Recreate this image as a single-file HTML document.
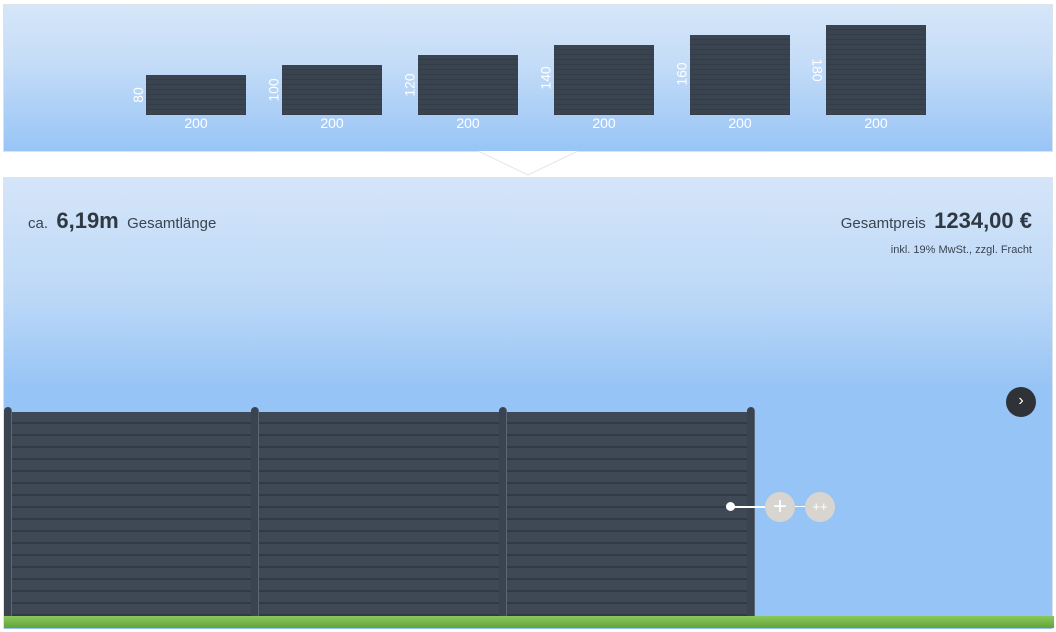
<!DOCTYPE html>
<html><head><meta charset="utf-8"><style>
*{margin:0;padding:0;box-sizing:border-box}
body{width:1056px;height:632px;background:#fff;position:relative;overflow:hidden;font-family:"Liberation Sans","DejaVu Sans",sans-serif}
.top{position:absolute;left:3px;top:4px;width:1050px;height:148px;border:1px solid #dde3ea;background:linear-gradient(#d6e6f8,#c4dcf7 40%,#98c5f6)}
.thumb{position:absolute;width:100px;bottom:36px;background:#37414c;background-image:repeating-linear-gradient(#3a4450 0,#3a4450 4px,#333c47 4px,#333c47 5px)}
.w{position:absolute;top:110px;width:100px;text-align:center;color:#fff;font-size:14px}
.h{position:absolute;color:#fff;font-size:14px;transform-origin:center;white-space:nowrap}
.main{position:absolute;left:3px;top:177px;width:1050px;height:452px;border:1px solid #dde3ea;border-bottom:none;background:linear-gradient(#d5e5f8,#bcd8f7 120px,#96c4f6 210px,#96c4f6)}
.post{position:absolute;top:229px;width:8px;height:212px;background:#3a4450;border-radius:4px 4px 0 0;border-right:1px solid #5a6878}
.panel{position:absolute;top:234px;height:206px;width:240px;background:repeating-linear-gradient(#3f4956 0,#3f4956 10px,#323a45 10px,#323a45 12px)}
.grass{position:absolute;left:0;top:438px;width:1050px;height:12px;background:linear-gradient(#8ac85a,#62a33a)}
</style></head><body>
<div class="top">
  <div class="thumb" style="left:142px;height:40px"></div>
  <div class="thumb" style="left:278px;height:50px"></div>
  <div class="thumb" style="left:414px;height:60px"></div>
  <div class="thumb" style="left:550px;height:70px"></div>
  <div class="thumb" style="left:686px;height:80px"></div>
  <div class="thumb" style="left:822px;height:90px"></div>
  <div class="w" style="left:142px">200</div><div class="w" style="left:278px">200</div><div class="w" style="left:414px">200</div><div class="w" style="left:550px">200</div><div class="w" style="left:686px">200</div><div class="w" style="left:822px">200</div>
  <div class="h" style="left:126px;top:82px;transform:rotate(-90deg)">80</div>
  <div class="h" style="left:258px;top:77px;transform:rotate(-90deg)">100</div>
  <div class="h" style="left:394px;top:72px;transform:rotate(-90deg)">120</div>
  <div class="h" style="left:530px;top:65px;transform:rotate(-90deg)">140</div>
  <div class="h" style="left:666px;top:61px;transform:rotate(-90deg)">160</div>
  <div class="h" style="left:802px;top:57px;transform:rotate(90deg)">180</div>
</div>
<svg style="position:absolute;left:470px;top:150px" width="120" height="30"><polygon points="8,1 108,1 58,26" fill="#fff"/><polyline points="8,1 58,25 108,1" fill="none" stroke="#e2e6ea" stroke-width="1"/></svg>
<div class="main">
  <div style="position:absolute;left:24px;top:30px;color:#3a4450;font-size:15px;white-space:nowrap">ca.&nbsp; <b style="font-size:22px;color:#2f3944">6,19m</b>&nbsp; Gesamtlänge</div>
  <div style="position:absolute;right:20px;top:30px;color:#3a4450;font-size:15px;white-space:nowrap">Gesamtpreis&nbsp; <b style="font-size:22px;color:#2f3944">1234,00 €</b></div>
  <div style="position:absolute;right:20px;top:66px;color:#3a4450;font-size:11px;white-space:nowrap">inkl. 19% MwSt., zzgl. Fracht</div>
  <div style="position:absolute;left:1002px;top:209px;width:30px;height:30px;border-radius:50%;background:#2f3338;color:#fff;text-align:center;line-height:28px;font-size:16px">›</div>
  <div class="panel" style="left:7px"></div>
  <div class="panel" style="left:255px"></div>
  <div class="panel" style="left:503px"></div>
  <div class="post" style="left:0px"></div>
  <div class="post" style="left:247px"></div>
  <div class="post" style="left:495px"></div>
  <div class="post" style="left:743px"></div>
  <div style="position:absolute;left:727px;top:328px;width:50px;height:2px;background:#fff"></div>
  <div style="position:absolute;left:722px;top:324px;width:9px;height:9px;border-radius:50%;background:#fff"></div>
  <div style="position:absolute;left:761px;top:314px;width:30px;height:30px;border-radius:50%;background:#d8d5d0;color:#fff;text-align:center;line-height:29px;font-size:24px">+</div>
  <div style="position:absolute;left:791px;top:328px;width:12px;height:1px;background:#fff"></div>
  <div style="position:absolute;left:801px;top:314px;width:30px;height:30px;border-radius:50%;background:#d8d5d0;color:#fff;text-align:center;line-height:29px;font-size:13px">++</div>
  <div class="grass"></div>
</div>
</body></html>
